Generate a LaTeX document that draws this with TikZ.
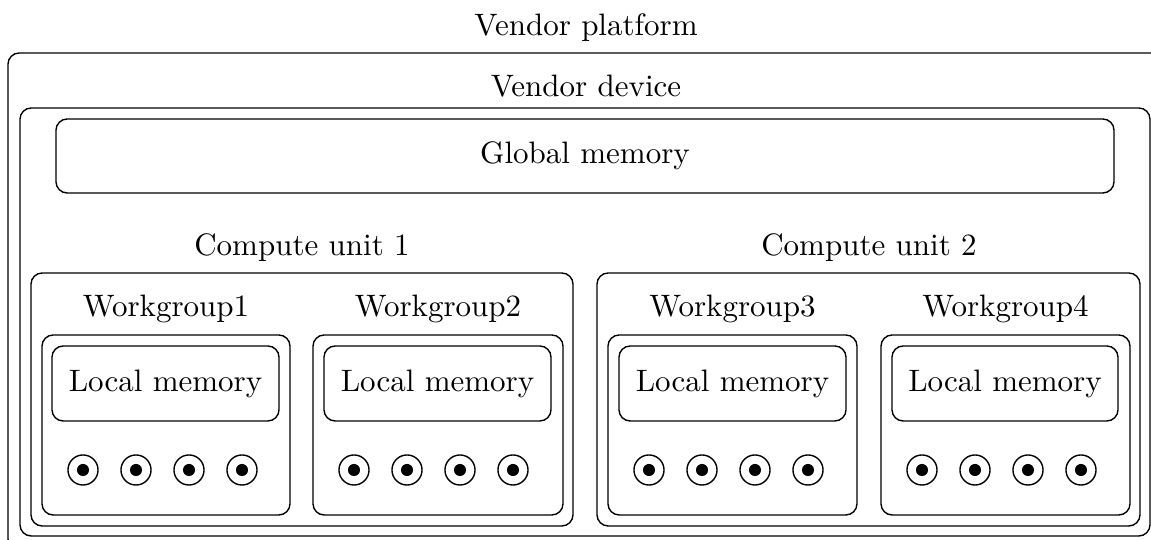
\documentclass[tikz,border=0pt]{standalone}
\usetikzlibrary{fit}
\begin{document}
\begin{tikzpicture}[x=0.3226pt,y=-0.3226pt,
  box/.style={draw,rounded corners=3.6pt,inner sep=0pt,line width=0.45pt},
  lbl/.style={anchor=base,inner sep=0pt},
  wi/.style={circle,draw,line width=0.45pt,minimum size=9.7pt,inner sep=0pt},
  wdot/.style={circle,fill=black,minimum size=3.9pt,inner sep=0pt}]
\useasboundingbox (0,0) rectangle (1151,540);
\clip (0,0) rectangle (1151,540);
% outer boxes
\node[box,fit={(8,53) (1165,550)}] (plat) {};
\node[lbl] (platl) at (586,36) {Vendor platform};
\node[box,fit={(20,108) (1150,536)}] (dev) {};
\node[lbl] (devl) at (586,97) {Vendor device};
\node[box,fit={(56,119) (1114,193)}] (gm) {};
\node (gml) at (gm.center) {Global memory};
% compute units
\node[box,fit={(31,273) (573,526)}] (cu1) {};
\node[lbl] (cu1l) at (302,256) {Compute unit 1};
\node[box,fit={(597,273) (1140,526)}] (cu2) {};
\node[lbl] (cu2l) at (869,256) {Compute unit 2};
% workgroups
\foreach \i/\l/\r/\ll/\lr in {1/42/290/52/279, 2/313/563/324/551, 3/608/857/619/846, 4/881/1130/892/1118}{
  \node[box,fit={(\l,335) (\r,515)}] (wg\i) {};
  \node[lbl] (wg\i l) at ({(\l+\r)/2},317) {Workgroup\i};
  \node[box,fit={(\ll,346) (\lr,421)}] (lm\i) {};
  \node (lm\i t) at (lm\i.center) {Local memory};
  \foreach \k in {0,1,2,3}{
    \node[wi] (w\i-\k) at ({\l+41+53*\k},470) {};
    \node[wdot] (d\i-\k) at (w\i-\k.center) {};
  }
}
\end{tikzpicture}
\end{document}
